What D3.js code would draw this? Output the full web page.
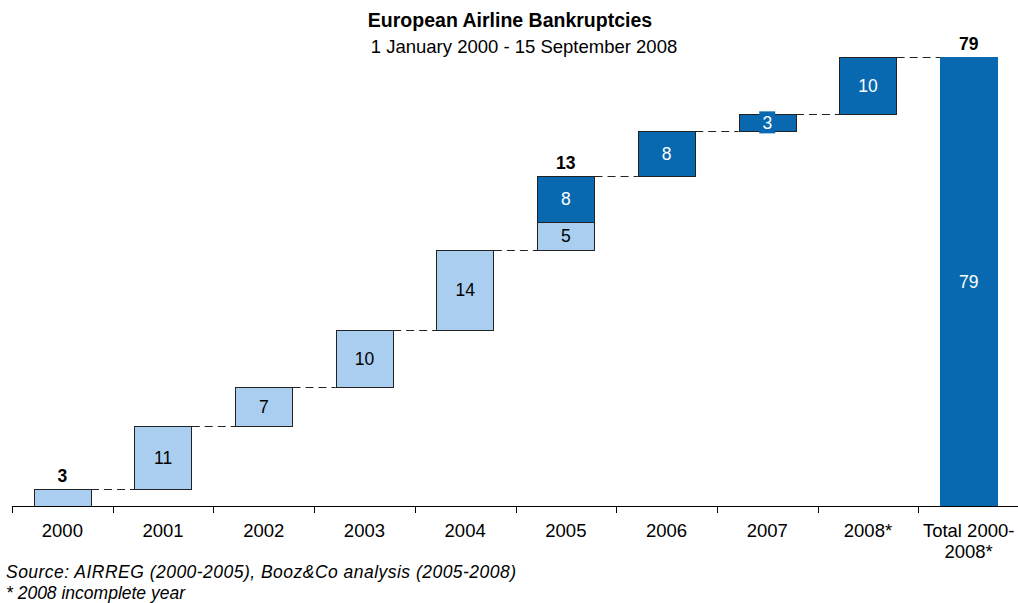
<!DOCTYPE html>
<html>
<head>
<meta charset="utf-8">
<script src="https://cdn.jsdelivr.net/npm/d3@7"></script>
<style>
  body { margin: 0; background: #fff; }
  text { font-family: Arial, "Liberation Sans", sans-serif; }
</style>
</head>
<body>
<script>
// data
var years = ["2000", "2001", "2002", "2003", "2004", "2005", "2006", "2007", "2008*", "Total 2000-|2008*"];
var lightVals = [3, 11, 7, 10, 14, 5, 0, 0, 0, 0];
var darkVals  = [0, 0, 0, 0, 0, 8, 8, 3, 10, 0];
var totalVal = 79;
var topLabels = [{ cat: "2000", text: "3" }, { cat: "2005", text: "13" }, { cat: "Total 2000-|2008*", text: "79" }];

var W = 1018, H = 603;
var light = "#A9CEEF", dark = "#0869B1";

var svg = d3.select("body").append("svg")
  .attr("width", W)
  .attr("height", H);

var x = d3.scaleBand().domain(years).range([12, 1019]).paddingInner(0.43).paddingOuter(0.215);
var y = d3.scaleLinear().domain([0, totalVal]).range([506, 57]);

// build segments
var segs = [], steps = [];
var cum = 0;
years.forEach(function (yr, i) {
  if (i === years.length - 1) {
    segs.push({ cat: yr, y0: 0, y1: totalVal, v: totalVal, dark: true, total: true });
    return;
  }
  if (lightVals[i]) { segs.push({ cat: yr, y0: cum, y1: cum + lightVals[i], v: lightVals[i], dark: false }); cum += lightVals[i]; }
  if (darkVals[i])  { segs.push({ cat: yr, y0: cum, y1: cum + darkVals[i], v: darkVals[i], dark: true }); cum += darkVals[i]; }
  steps.push({ cat: yr, next: years[i + 1], level: cum });
});

// dashed connectors
svg.selectAll("line.conn").data(steps).enter().append("line")
  .attr("x1", function (d) { return x(d.cat) + x.bandwidth(); })
  .attr("x2", function (d) { return x(d.next); })
  .attr("y1", function (d) { return Math.round(y(d.level)) + 0.5; })
  .attr("y2", function (d) { return Math.round(y(d.level)) + 0.5; })
  .attr("stroke", "#222")
  .attr("stroke-width", 1)
  .attr("stroke-dasharray", "8,5");

// bars
svg.selectAll("rect.bar").data(segs).enter().append("rect")
  .attr("x", function (d) { return Math.round(x(d.cat)) + 0.5; })
  .attr("y", function (d) { return Math.round(y(d.y1)) + 0.5; })
  .attr("width", Math.round(x.bandwidth()))
  .attr("height", function (d) { return Math.round(y(d.y0)) - Math.round(y(d.y1)); })
  .attr("fill", function (d) { return d.dark ? dark : light; })
  .attr("stroke", function (d) { return d.total ? dark : "#222"; })
  .attr("stroke-width", 1);

// value labels inside bars (the 2000 bar carries only its label on top)
var inside = segs.filter(function (d) { return d.cat !== "2000"; });
var lab = svg.selectAll("g.lab").data(inside).enter().append("g")
  .attr("transform", function (d) {
    return "translate(" + (x(d.cat) + x.bandwidth() / 2) + "," + ((y(d.y0) + y(d.y1)) / 2) + ")";
  });
lab.filter(function (d) { return d.dark && (y(d.y0) - y(d.y1)) < 22; })
  .append("rect")
  .attr("x", -8).attr("y", -11).attr("width", 16).attr("height", 22)
  .attr("fill", dark);
lab.append("text")
  .attr("text-anchor", "middle")
  .attr("dy", "0.36em")
  .attr("font-size", 17.5)
  .attr("fill", function (d) { return d.dark ? "#fff" : "#000"; })
  .text(function (d) { return d.v; });

// bold totals above bars
var topOf = {};
segs.forEach(function (s) { topOf[s.cat] = Math.max(topOf[s.cat] || 0, s.y1); });
svg.selectAll("text.top").data(topLabels).enter().append("text")
  .attr("x", function (d) { return x(d.cat) + x.bandwidth() / 2; })
  .attr("y", function (d) { return y(topOf[d.cat]) - 7; })
  .attr("text-anchor", "middle")
  .attr("font-size", 17.5)
  .attr("font-weight", "bold")
  .text(function (d) { return d.text; });

// axis
var axisG = svg.append("g");
axisG.append("line")
  .attr("x1", 12).attr("x2", 1018)
  .attr("y1", 506.5).attr("y2", 506.5)
  .attr("stroke", "#000");
var step = x.step();
var bounds = years.map(function (d) { return x(d) - (step - x.bandwidth()) / 2; });
axisG.selectAll("line.tick").data(bounds).enter().append("line")
  .attr("x1", function (d) { return Math.round(d) + 0.5; })
  .attr("x2", function (d) { return Math.round(d) + 0.5; })
  .attr("y1", 506).attr("y2", 513)
  .attr("stroke", "#000");

var cats = axisG.selectAll("text.cat").data(years).enter().append("text")
  .attr("x", function (d) { return x(d) + x.bandwidth() / 2; })
  .attr("y", 537)
  .attr("text-anchor", "middle")
  .attr("font-size", 18.5)
  .attr("fill", "#000");
cats.each(function (d) {
  var parts = d.split("|");
  var t = d3.select(this);
  parts.forEach(function (p, i) {
    t.append("tspan")
      .attr("x", x(d) + x.bandwidth() / 2)
      .attr("dy", i === 0 ? 0 : 21)
      .text(p);
  });
});

// titles
svg.append("text")
  .attr("x", 510).attr("y", 27)
  .attr("text-anchor", "middle")
  .attr("font-size", 19.5)
  .attr("font-weight", "bold")
  .text("European Airline Bankruptcies");
svg.append("text")
  .attr("x", 524).attr("y", 53)
  .attr("text-anchor", "middle")
  .attr("font-size", 18.5)
  .text("1 January 2000 - 15 September 2008");

// footnotes
svg.append("text")
  .attr("x", 6).attr("y", 578)
  .attr("font-size", 17.5)
  .attr("font-style", "italic")
  .attr("textLength", 510)
  .text("Source: AIRREG (2000-2005), Booz&Co analysis (2005-2008)");
svg.append("text")
  .attr("x", 6).attr("y", 599)
  .attr("font-size", 17.5)
  .attr("font-style", "italic")
  .text("* 2008 incomplete year");
</script>
</body>
</html>
